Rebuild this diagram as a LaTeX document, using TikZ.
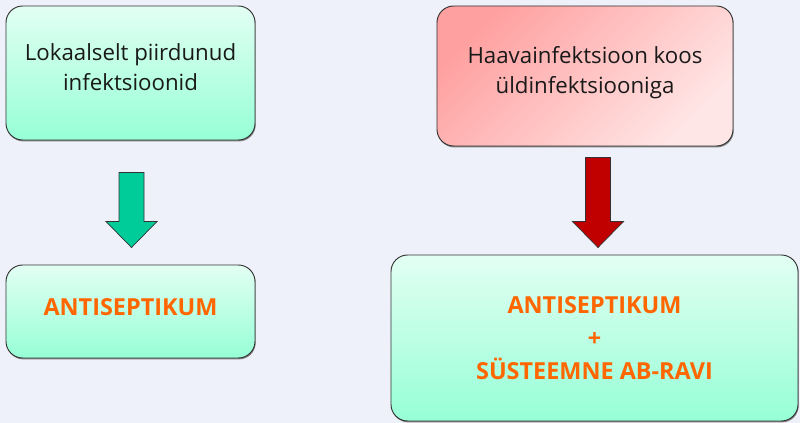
\documentclass[tikz,border=0pt]{standalone}
\usepackage{fontspec}
\setmainfont{Open Sans}
\usetikzlibrary{calc,positioning,shadows}

\definecolor{bgblue}{HTML}{EEF1F9}
\definecolor{mintlight}{HTML}{E2FFF3}
\definecolor{mintdark}{HTML}{96FFD6}
\definecolor{rosedark}{HTML}{FFA0A0}
\definecolor{roselight}{HTML}{FFE6E6}
\definecolor{arrowgreen}{HTML}{00CC99}
\definecolor{arrowred}{HTML}{C00000}
\definecolor{txtorange}{HTML}{FF6600}

% block arrow from #2 (top of shaft) to #3 (tip)
\newcommand{\blockarrow}[3]{%
  \draw[#1] ($(#2)+(-12.5,0)$) -- ($(#2)+(12.5,0)$) -- ($(#3)+(12.5,-26)$)
    -- ($(#3)+(25.5,-26)$) -- (#3) -- ($(#3)+(-25.5,-26)$)
    -- ($(#3)+(-12.5,-26)$) -- cycle;}

\tikzset{
  box/.style={draw=black!80, thick, rounded corners=0.5cm, align=center,
    drop shadow={shadow xshift=0.6pt, shadow yshift=-1.2pt, fill=black!60, opacity=0.8}},
  greenbox/.style={box, top color=mintlight, bottom color=mintdark},
  redbox/.style={box, left color=rosedark, right color=roselight, shading angle=45},
  plaintxt/.style={font=\fontsize{19}{26}\selectfont, text=black!90, text depth=10pt},
  boldtxt/.style={font=\fontsize{20}{28}\selectfont\bfseries, text=txtorange},
  arrow/.style={draw=black!80, line width=0.6pt}
}

\begin{document}
\begin{tikzpicture}[x=0.03cm, y=-0.03cm]
\useasboundingbox[fill=bgblue] (0,0) rectangle (800,423);

\node[greenbox, plaintxt, minimum width=7.47cm, minimum height=4.02cm] (local) at (130.5,73) {Lokaalselt piirdunud\\infektsioonid};
\node[redbox, plaintxt, minimum width=8.88cm, minimum height=4.2cm] (general) at (585,76) {Haavainfektsioon koos\\üldinfektsiooniga};

\node[greenbox, boldtxt, text depth=8.5pt, minimum width=7.47cm, minimum height=2.79cm] (antis) at (130.5,311.5) {ANTISEPTIKUM};
\node[greenbox, boldtxt, minimum width=12.21cm, minimum height=4.98cm] (antisab) at (594.5,338) {ANTISEPTIKUM\\+\\SÜSTEEMNE AB-RAVI};

\coordinate (gtop) at ($(local.south)+(1,32)$);
\coordinate (gtip) at ($(antis.north)+(1,-17)$);
\coordinate (rtop) at ($(general.south)+(13,11)$);
\coordinate (rtip) at ($(antisab.north)+(3.5,-7)$);

\blockarrow{arrow, fill=arrowgreen}{gtop}{gtip}
\blockarrow{arrow, fill=arrowred}{rtop}{rtip}
\end{tikzpicture}
\end{document}
